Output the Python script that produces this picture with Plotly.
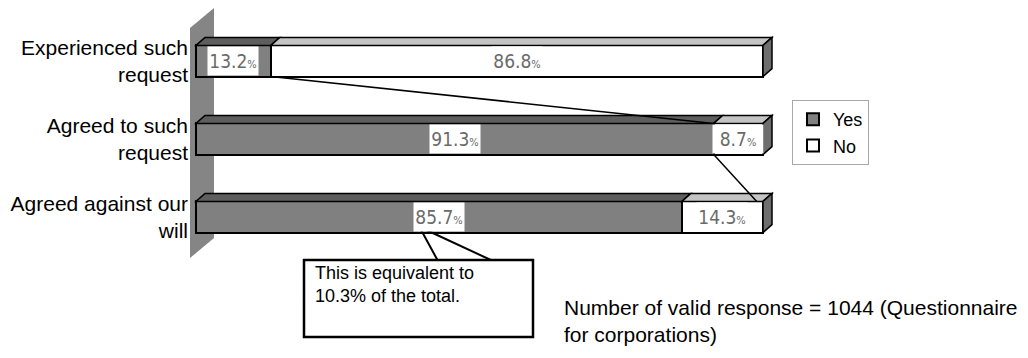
import plotly.graph_objects as go

# ---------------- data ----------------
categories = ["Experienced such<br>request", "Agreed to such<br>request", "Agreed against our<br>will"]
yes_values = [13.2, 91.3, 85.7]
no_values = [86.8, 8.7, 14.3]
series_names = ["Yes", "No"]
leader_end_x = 98.9          # where the drawn leader line meets the third bar
callout_text = "This is equivalent to<br>10.3% of the total."
note_text = "Number of valid response = 1044 (Questionnaire<br>for corporations)"

# ---------------- geometry helpers (pixel -> axis units, for decorations) ----------------
W, H = 1028, 358
X0PX, PXX = 196, 5.67      # x=0 at 196px, 5.67 px per percent
Y0, PXY = -0.782, 78.0     # y at top pixel row, 78 px per category step


def dxp(px):
    return (px - X0PX) / PXX


def dyp(py):
    return Y0 + py / PXY


BAR_W = 0.40
DEPTH_X = 9 / PXX
DEPTH_Y = 8 / PXY

YES_COL = "#808080"
NO_COL = "#ffffff"
YES_TOP = "#5e5e5e"
NO_TOP = "#c4c4c4"
SIDE_COL = "#6e6e6e"
LBL_FONT = "Liberation Sans Narrow, DejaVu Sans Condensed, Arial Narrow, sans-serif"
TXT_FONT = "Arial"

ypos = list(range(len(categories)))

fig = go.Figure()
fig.add_trace(go.Bar(
    y=ypos, x=yes_values, orientation="h", name=series_names[0], width=BAR_W,
    marker=dict(color=YES_COL, line=dict(color="black", width=2)),
    legendgroup="a", hoverinfo="skip"))
fig.add_trace(go.Bar(
    y=ypos, x=no_values, orientation="h", name=series_names[1], width=BAR_W,
    marker=dict(color=NO_COL, line=dict(color="black", width=2)),
    legendgroup="b", hoverinfo="skip"))

shapes = []
# back wall
shapes.append(dict(
    type="path", xref="x", yref="y", layer="below",
    path=f"M {dxp(190)},{dyp(28)} L {dxp(214)},{dyp(8)} L {dxp(214)},{dyp(238)} L {dxp(190)},{dyp(258)} Z",
    fillcolor="#858585", line=dict(width=0)))

# 3D top and side faces
for i, (yv, nv) in enumerate(zip(yes_values, no_values)):
    top = i - BAR_W / 2
    bot = i + BAR_W / 2
    segs = [(0, yv, YES_TOP), (yv, yv + nv, NO_TOP)]
    for a, b, col in segs:
        shapes.append(dict(
            type="path", xref="x", yref="y", layer="above",
            path=f"M {a},{top} L {a + DEPTH_X},{top - DEPTH_Y} L {b + DEPTH_X},{top - DEPTH_Y} L {b},{top} Z",
            fillcolor=col, line=dict(color="black", width=1.5)))
    end = yv + nv
    shapes.append(dict(
        type="path", xref="x", yref="y", layer="above",
        path=f"M {end},{top} L {end + DEPTH_X},{top - DEPTH_Y} L {end + DEPTH_X},{bot - DEPTH_Y} L {end},{bot} Z",
        fillcolor=SIDE_COL, line=dict(color="black", width=1.5)))

# series leader lines
shapes.append(dict(type="line", xref="x", yref="y", x0=yes_values[0], y0=0 + BAR_W / 2,
                   x1=yes_values[1], y1=1 - BAR_W / 2, line=dict(color="black", width=1.5)))
shapes.append(dict(type="line", xref="x", yref="y", x0=yes_values[1], y0=1 + BAR_W / 2,
                   x1=leader_end_x, y1=2 - BAR_W / 2, line=dict(color="black", width=1.5)))

# callout box with pointer
shapes.append(dict(type="path", xref="x", yref="y", layer="above",
                   path=f"M {dxp(420)},{dyp(228)} L {dxp(438)},{dyp(261)} M {dxp(422)},{dyp(228)} L {dxp(493)},{dyp(261)}",
                   line=dict(color="black", width=2)))
shapes.append(dict(type="rect", xref="x", yref="y", layer="above",
                   x0=dxp(304), x1=dxp(533), y0=dyp(260), y1=dyp(337),
                   fillcolor="white", line=dict(color="black", width=2.5)))

annotations = []
# value labels
for i, (yv, nv) in enumerate(zip(yes_values, no_values)):
    for center, v in ((yv / 2, yv), (yv + nv / 2, nv)):
        annotations.append(dict(
            x=center, y=i, xref="x", yref="y", showarrow=False,
            text=f"{v:.1f}<span style='font-size:11px'>%</span>",
            font=dict(family=LBL_FONT, size=19, color="#6a6a6a"),
            bgcolor="white", borderpad=0, width=50, height=28))

annotations.append(dict(
    x=dxp(313), y=dyp(284), xref="x", yref="y", xanchor="left", yanchor="middle",
    showarrow=False, align="left", text=callout_text,
    font=dict(family=TXT_FONT, size=18, color="black")))
annotations.append(dict(
    x=dxp(562), y=dyp(321), xref="x", yref="y", xanchor="left", yanchor="middle",
    showarrow=False, align="left", text=note_text,
    font=dict(family=TXT_FONT, size=21, color="black")))

fig.update_layout(
    width=W, height=H, margin=dict(l=189, r=0, t=0, b=0),
    plot_bgcolor="white", paper_bgcolor="white",
    barmode="stack", showlegend=True,
    shapes=shapes, annotations=annotations,
    legend=dict(x=(792 - 189) / (W - 189), y=1 - 100 / H, xanchor="left", yanchor="top",
                bordercolor="#a8a8a8", borderwidth=1, traceorder="normal",
                tracegroupgap=10, font=dict(family=TXT_FONT, size=18, color="black"),
                itemwidth=30),
    xaxis=dict(range=[dxp(189), dxp(W)], showgrid=False, zeroline=False,
               showticklabels=False, showline=False, fixedrange=True),
    yaxis=dict(range=[dyp(H), dyp(0)], tickvals=ypos, ticktext=categories,
               showgrid=False, zeroline=False, showline=False, ticks="",
               tickfont=dict(family=TXT_FONT, size=21, color="black"), fixedrange=True),
)

fig.write_html("out.html")
